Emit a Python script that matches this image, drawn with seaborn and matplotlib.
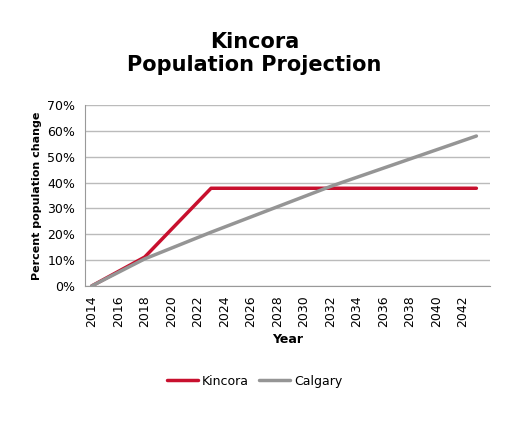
import seaborn as sns
import matplotlib.pyplot as plt
import pandas as pd
from matplotlib.lines import Line2D

sns.set_style("white")
plt.rcParams['font.family'] = ['DejaVu Sans']
plt.rcParams['text.color'] = 'black'
plt.rcParams['axes.labelcolor'] = 'black'
plt.rcParams['xtick.color'] = 'black'
plt.rcParams['ytick.color'] = 'black'

years_kincora = [2014, 2018, 2023, 2043]
kincora = [0, 11.2, 37.8, 37.8]
years_calgary = [2014, 2018, 2023, 2032, 2043]
calgary = [0, 10.5, 20.8, 38.5, 58]

df = pd.concat([
    pd.DataFrame({'Year': years_kincora, 'pct': kincora, 'series': 'Kincora'}),
    pd.DataFrame({'Year': years_calgary, 'pct': calgary, 'series': 'Calgary'}),
])

fig = plt.figure(figsize=(5.09, 4.25), dpi=100)
ax = fig.add_axes([0.167, 0.327, 0.795, 0.426])
sns.lineplot(data=df, x='Year', y='pct', hue='series', palette=['#c8102e', '#959595'],
             linewidth=2.5, ax=ax, legend=False)

ax.set_xlim(2013.5, 2044)
ax.set_ylim(0, 70)
ax.set_xticks(range(2014, 2043, 2))
ax.set_xticklabels([str(y) for y in range(2014, 2043, 2)], rotation=90, fontsize=9)
ax.set_yticks(range(0, 71, 10))
ax.set_yticklabels([f'{v}%' for v in range(0, 71, 10)], fontsize=9)
ax.grid(axis='y', color='#bbbbbb', linewidth=1)
for s in ['top', 'right']:
    ax.spines[s].set_visible(False)
ax.spines['left'].set_color('#999999')
ax.spines['bottom'].set_color('#999999')
ax.set_xlabel('Year', fontsize=9, fontweight='bold')
ax.set_ylabel('Percent population change', fontsize=8, fontweight='bold')
fig.suptitle('Kincora\nPopulation Projection', fontsize=15, fontweight='bold', y=0.925)

handles = [Line2D([], [], color='#c8102e', lw=2.5), Line2D([], [], color='#959595', lw=2.5)]
fig.legend(handles, ['Kincora', 'Calgary'], loc='center', bbox_to_anchor=(0.5, 0.103),
           ncol=2, frameon=False, fontsize=9, handlelength=2.5, columnspacing=0.8,
           handletextpad=0.3)

fig.savefig('out.png', dpi=100)
